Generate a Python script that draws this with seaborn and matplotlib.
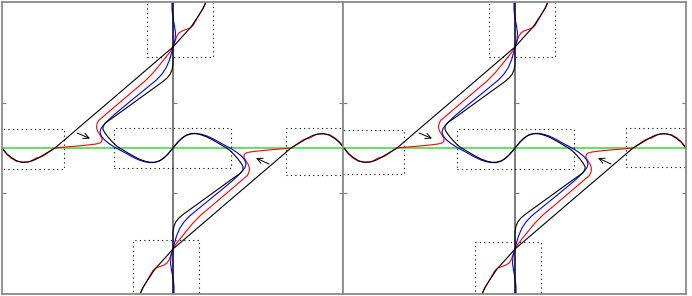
import numpy as np
import matplotlib
matplotlib.use('Agg')
import matplotlib.pyplot as plt
import seaborn as sns

sns.set_style('white')

# all values in pixels, origin = centre line x green line
# upper-left branches only, the lower-right ones are the same turned by 180 degrees
outer_x = [-171, -166, -161, -156, -150, -145, -140, -135, -130, -126, -122, -118,
           -90, -60, -30, 0, 4, 8, 13, 18, 22, 26, 30, 33]
outer_y = [0, -6, -10, -13, -14.3, -14, -12.6, -10.2, -7.2, -4.8, -2.4, 0,
           24, 49.6, 75.3, 101, 105.5, 110, 115.5, 121, 127, 133, 139.5, 146]

red_x = [-171, -167, -162, -157, -151, -146, -143, -139, -136, -133, -130, -127, -123, -118,
         -112, -105, -95, -85, -77, -73, -71, -71, -73, -75.5, -76.5, -76, -74.5, -72, -67,
         -58, -48, -38, -28, -20, -13, -7, -3, 0, 2, 4, 6, 9, 13, 17, 20, 22, 26, 30, 33]
red_y = [0, -5.5, -10, -13, -14.3, -14, -13.5, -11.2, -9.8, -9.2, -8, -6, -3.2, 0,
         0.6, 1.2, 2, 3, 4, 5, 7, 9.5, 13, 17, 20.5, 24, 27.5, 29.5, 33.8,
         41.5, 50, 58.5, 66.9, 75, 83.5, 91, 96, 101, 107, 112, 115, 117, 118.5, 120, 122.5, 126, 133, 139.5, 146]

# blue and inner black run from the top edge down to the origin
blue_x = [-1, -1, 0, 1.5, 2.5, 2, 1, 0, -1.5, -3.5, -7, -11, -16, -30, -45, -58, -64, -69, -72, -73,
          -72, -69, -64, -59, -54, -49, -44, -39, -34, -29, -24, -19, -14, -10, -6, -3, 0]
blue_y = [146, 138, 130, 122, 115, 108, 104, 101, 95, 88, 80, 74, 68.5, 57, 44.8, 34, 28.5, 23.5, 19.5, 16,
          12.5, 8.5, 4.5, 1.2, -1.6, -4.2, -7, -9.7, -12, -13.6, -14.6, -14.6, -13.2, -10.5, -7, -3.6, 0]

inner_x = [0, 0, -1, -3, -6, -10, -20, -35, -50, -60, -65, -68, -70, -70, -68, -65, -61, -57, -53,
           -48, -43, -38, -33, -28, -23, -18, -13, -9, -5, -2.5, 0]
inner_y = [146, 84, 78, 73.5, 70, 66.5, 59.3, 48.5, 37.6, 30.4, 27, 24.5, 21.5, 18.5, 15, 11, 6.5, 2.5, -0.3,
           -3.2, -6.2, -9, -11.4, -13.2, -14.3, -14.2, -12.6, -10, -6, -3, 0]

arrow_tail = [(-96, 15), (96, -16)]
arrow_head = [(-83, 9.5), (83, -10)]

# dotted boxes per panel: x0, x1, y0, y1
boxes_left = [(-26, 40, 91, 170), (-190, -109, -21, 19), (-59, 58, -20, 20),
              (113, 190, -27, 20), (-40, 26, -170, -92)]
boxes_right = [(-26, 40, 91, 170), (-190, -111, -26, 18), (-58, 59, -21, 19),
               (111, 190, -19, 20), (-40, 26, -170, -94)]

tick_y = [-45, 45]


def turned(xs, ys):
    return [-v for v in xs], [-v for v in ys]


def through_origin(xs, ys):
    bx, by = turned(xs[::-1], ys[::-1])
    return list(xs) + bx[1:], list(ys) + by[1:]


def draw_panel(ax, boxes, xlim):
    ax.axvline(0, color='#7a7a7a', lw=1.4, zorder=1)
    ax.axhline(0, color='#33dd33', lw=1.1, zorder=2)
    ax.plot([0, 0], tick_y, ls='none', marker=1, ms=3, color='#7a7a7a', mew=0.8)
    for x0, x1, y0, y1 in boxes:
        ax.plot([x0, x1, x1, x0, x0], [y0, y0, y1, y1, y0], color='k', lw=0.8,
                ls=(0, (1, 3)), zorder=2)

    rx2, ry2 = turned(red_x, red_y)
    ox2, oy2 = turned(outer_x, outer_y)
    bx, by = through_origin(blue_x, blue_y)
    ix, iy = through_origin(inner_x, inner_y)
    for xs, ys in [(red_x, red_y), (rx2, ry2)]:
        sns.lineplot(x=xs, y=ys, sort=False, estimator=None, color='red', lw=0.8, ax=ax)
    sns.lineplot(x=bx, y=by, sort=False, estimator=None, color='blue', lw=0.8, ax=ax)
    sns.lineplot(x=ix, y=iy, sort=False, estimator=None, color='black', lw=0.8, ax=ax)
    for xs, ys in [(outer_x, outer_y), (ox2, oy2)]:
        sns.lineplot(x=xs, y=ys, sort=False, estimator=None, color='black', lw=0.8, ax=ax)

    for t, h in zip(arrow_tail, arrow_head):
        ax.annotate('', xy=h, xytext=t,
                    arrowprops=dict(arrowstyle='->', color='k', lw=0.7, shrinkA=0, shrinkB=0))

    ax.set_xlim(*xlim)
    ax.set_ylim(-146, 146)
    ax.set_xticks([])
    ax.set_yticks(tick_y)
    ax.tick_params(axis='y', direction='in', length=3, color='#7a7a7a',
                   left=True, right=True, labelleft=False, labelright=False)
    ax.set_xlabel('')
    ax.set_ylabel('')
    for s in ax.spines.values():
        s.set_color('#8a8a8a')
        s.set_linewidth(1.3)


fig = plt.figure(figsize=(6.92, 2.96), dpi=100)
ax1 = fig.add_axes([2 / 692, 2 / 296, 341 / 692, 292 / 296])
ax2 = fig.add_axes([343 / 692, 2 / 296, 343 / 692, 292 / 296])
draw_panel(ax1, boxes_left, (-171, 170))
draw_panel(ax2, boxes_right, (-172, 171))

fig.savefig('out.png', dpi=100)
